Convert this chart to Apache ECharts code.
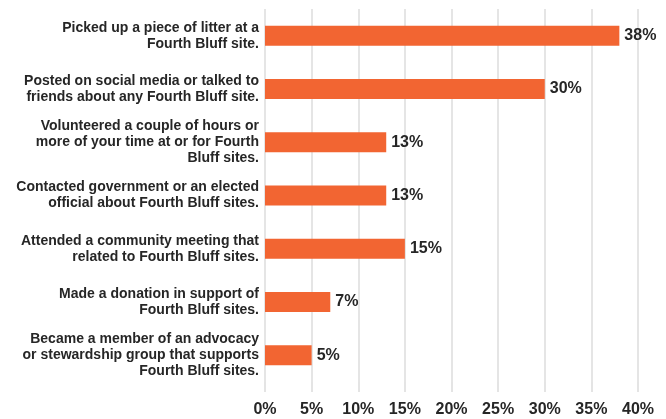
<!DOCTYPE html>
<html>
<head>
<meta charset="utf-8">
<script src="https://cdn.jsdelivr.net/npm/echarts@6/dist/echarts.min.js"></script>
<style>
  html, body { margin: 0; padding: 0; background: #fff; }
  #chart { width: 666px; height: 419px; }
</style>
</head>
<body>
<div id="chart"></div>
<script>
  // categories, top to bottom
  var actions = [
    'Picked up a piece of litter at a\nFourth Bluff site.',
    'Posted on social media or talked to\nfriends about any Fourth Bluff site.',
    'Volunteered a couple of hours or\nmore of your time at or for Fourth\nBluff sites.',
    'Contacted government or an elected\nofficial about Fourth Bluff sites.',
    'Attended a community meeting that\nrelated to Fourth Bluff sites.',
    'Made a donation in support of\nFourth Bluff sites.',
    'Became a member of an advocacy\nor stewardship group that supports\nFourth Bluff sites.'
  ];
  var percents = [38, 30, 13, 13, 15, 7, 5];
  var xTicks = [0, 5, 10, 15, 20, 25, 30, 35, 40];

  var chart = echarts.init(document.getElementById('chart'));
  var font = '"Liberation Sans", Arial, sans-serif';
  chart.setOption({
    animation: false,
    grid: { left: 265, right: 28, top: 9, height: 373 },
    xAxis: {
      type: 'value',
      min: xTicks[0],
      max: xTicks[xTicks.length - 1],
      interval: 5,
      axisLine: { show: false },
      axisTick: { show: true, length: 10, lineStyle: { color: '#dcdcdc', width: 1.5 } },
      splitLine: { show: true, lineStyle: { color: '#dcdcdc', width: 1.5 } },
      axisLabel: {
        formatter: '{value}%',
        color: '#262626',
        fontFamily: font,
        fontWeight: 'bold',
        fontSize: 16,
        margin: 20
      }
    },
    yAxis: {
      type: 'category',
      inverse: true,
      data: actions,
      axisLine: { show: false },
      axisTick: { show: false },
      axisLabel: {
        color: '#262626',
        fontFamily: font,
        fontWeight: 'bold',
        fontSize: 14,
        lineHeight: 16,
        margin: 6,
        align: 'right'
      }
    },
    series: [{
      type: 'bar',
      data: percents,
      barWidth: 20,
      itemStyle: { color: '#f26532' },
      label: {
        show: true,
        position: 'right',
        distance: 5,
        formatter: '{c}%',
        color: '#262626',
        fontFamily: font,
        fontWeight: 'bold',
        fontSize: 16
      }
    }]
  });
</script>
</body>
</html>
